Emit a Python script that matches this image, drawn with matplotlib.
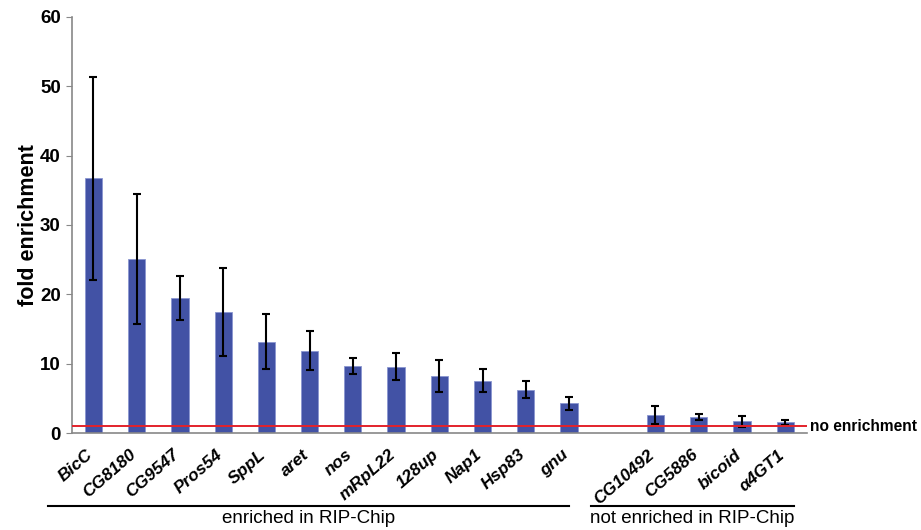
import matplotlib
matplotlib.use('Agg')
import matplotlib.pyplot as plt
import matplotlib.transforms as mtransforms

plt.rcParams['font.family'] = ['Liberation Sans', 'DejaVu Sans']

genes = ['BicC', 'CG8180', 'CG9547', 'Pros54', 'SppL', 'aret', 'nos', 'mRpL22',
         '128up', 'Nap1', 'Hsp83', 'gnu', 'CG10492', 'CG5886', 'bicoid', 'α4GT1']
positions = [0, 1, 2, 3, 4, 5, 6, 7, 8, 9, 10, 11, 13, 14, 15, 16]
fold = [36.7, 25.1, 19.5, 17.5, 13.2, 11.9, 9.7, 9.6, 8.3, 7.6, 6.3, 4.3,
        2.6, 2.4, 1.7, 1.6]
err = [14.65, 9.35, 3.2, 6.3, 4.0, 2.8, 1.1, 1.95, 2.3, 1.65, 1.25, 0.95,
       1.3, 0.42, 0.78, 0.38]
baseline = 1.0

fig = plt.figure(figsize=(9.21, 5.3), dpi=100)
ax = fig.add_axes([0.078, 0.1825, 0.798, 0.786])

ax.bar(positions, fold, width=0.4, color='#4252a5', edgecolor='#8a96d0',
       linewidth=0.6, zorder=2)
ax.errorbar(positions, fold, yerr=err, fmt='none', ecolor='black',
            elinewidth=1.5, capsize=3, capthick=1.5, zorder=3)
ax.axhline(baseline, color='#e3222b', linewidth=1.4, zorder=4)

ax.set_xlim(-0.5, 16.5)
ax.set_ylim(0, 60)
ax.set_yticks(range(0, 61, 10))
ax.set_xticks(positions)
ax.set_xticklabels(genes, rotation=41, ha='right', va='center',
                   rotation_mode='anchor', fontsize=12.5, fontweight='bold',
                   fontstyle='italic')
ax.tick_params(axis='x', length=0, pad=14)
shift = mtransforms.ScaledTranslation(-3 / 100, 0, fig.dpi_scale_trans)
for lab in ax.get_xticklabels():
    lab.set_transform(lab.get_transform() + shift)
ax.tick_params(axis='y', length=4, color='#888888', labelsize=13.5, pad=4)
for lab in ax.get_yticklabels():
    lab.set_fontweight('bold')

for side in ['top', 'right']:
    ax.spines[side].set_visible(False)
for side in ['left', 'bottom']:
    ax.spines[side].set_color('#888888')
    ax.spines[side].set_linewidth(1.2)

ax.set_ylabel('fold enrichment', fontsize=15.5, fontweight='bold', labelpad=1)

ax.text(16.57, baseline, 'no enrichment', fontsize=11.2, fontweight='bold',
        va='center', ha='left', clip_on=False)

# group brackets under the gene names
trans = mtransforms.blended_transform_factory(ax.transData, fig.transFigure)
groups = [(-1.04, 11.0, 'enriched in RIP-Chip'),
          (11.5, 16.2, 'not enriched in RIP-Chip')]
for x0, x1, name in groups:
    ax.plot([x0, x1], [0.045, 0.045], color='black', linewidth=1.5,
            transform=trans, clip_on=False)
    ax.text((x0 + x1) / 2, 0.006, name, fontsize=13.5, ha='center', va='bottom',
            transform=trans)

fig.savefig('out.png', dpi=100)
